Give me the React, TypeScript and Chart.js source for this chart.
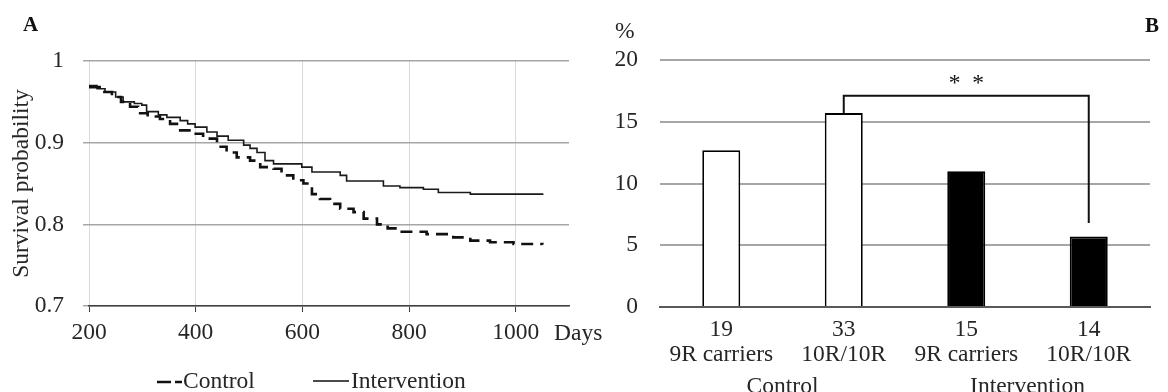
import React, { useEffect, useRef } from 'react';
import { Chart, registerables } from 'chart.js';

Chart.register(...registerables);

const FONT = '"Liberation Serif", "Times New Roman", serif';
const FS = 23.5;
const TEXT = '#262626';

// ---------- Panel A : survival curves ----------
const xTicksA = [200, 400, 600, 800, 1000];
const yTicksA = [0.7, 0.8, 0.9, 1];
const legendLabelsA = ['Control', 'Intervention'];

const controlDays = [200, 220, 243, 260, 277, 292, 310, 333, 352, 371, 396, 414, 440, 458, 477, 502, 521, 546, 561, 583, 602, 618, 633, 652, 671, 696, 715, 740, 760, 783, 833, 883, 915, 952, 996, 1050];
const controlSurv = [0.968, 0.962, 0.956, 0.95, 0.944, 0.936, 0.932, 0.929, 0.923, 0.915, 0.911, 0.905, 0.895, 0.888, 0.882, 0.878, 0.87, 0.868, 0.86, 0.854, 0.85, 0.837, 0.831, 0.825, 0.819, 0.815, 0.807, 0.8, 0.795, 0.791, 0.788, 0.784, 0.78, 0.778, 0.776, 0.775];

const interventionDays = [200, 215, 230, 250, 264, 285, 299, 308, 330, 346, 371, 385, 399, 421, 440, 461, 490, 502, 515, 530, 546, 599, 618, 671, 683, 752, 783, 827, 855, 915, 1052];
const interventionSurv = [0.97, 0.966, 0.962, 0.956, 0.95, 0.948, 0.946, 0.938, 0.934, 0.931, 0.927, 0.923, 0.919, 0.913, 0.908, 0.903, 0.897, 0.893, 0.888, 0.878, 0.874, 0.87, 0.864, 0.86, 0.853, 0.847, 0.845, 0.843, 0.839, 0.837, 0.837];

// ---------- Panel B : bars ----------
const barCounts = ['19', '33', '15', '14'];
const barGenotypes = ['9R carriers', '10R/10R', '9R carriers', '10R/10R'];
const barGroups = ['Control', 'Control', 'Intervention', 'Intervention'];
const barValues = [12.7, 15.7, 11.0, 5.7];
const yTicksB = [0, 5, 10, 15, 20];
const groupLabels = ['Control', 'Intervention'];
const bracketFrom = 1;
const bracketTo = 3;
const bracketTop = 17.1;
const bracketRightEnd = 6.8;
const significance = '*  *';
const starLevel = 18.5;

const W_A = 612;
const W_B = 1168 - W_A;
const H = 392;

export default function App() {
  const refA = useRef<HTMLCanvasElement>(null);
  const refB = useRef<HTMLCanvasElement>(null);

  useEffect(() => {
    const annotA = {
      id: 'annotA',
      afterDraw(chart: any) {
        const ctx = chart.ctx;
        ctx.save();
        ctx.fillStyle = '#111';
        ctx.textAlign = 'left';
        ctx.textBaseline = 'alphabetic';
        ctx.font = `bold 21px ${FONT}`;
        ctx.fillText('A', 23, 31);
        ctx.fillStyle = TEXT;
        ctx.font = `${FS}px ${FONT}`;
        ctx.fillText('Days', 554, 340);
        // legend
        ctx.strokeStyle = '#111';
        ctx.lineWidth = 2.6;
        ctx.setLineDash([14, 4]);
        ctx.beginPath();
        ctx.moveTo(157, 382);
        ctx.lineTo(182, 382);
        ctx.stroke();
        ctx.setLineDash([]);
        ctx.fillText(legendLabelsA[0], 183, 388);
        ctx.lineWidth = 1.6;
        ctx.beginPath();
        ctx.moveTo(313, 381);
        ctx.lineTo(349, 381);
        ctx.stroke();
        ctx.fillText(legendLabelsA[1], 351, 388);
        ctx.restore();
      },
    };

    const chartA = new Chart(refA.current as HTMLCanvasElement, {
      type: 'line',
      data: {
        datasets: [
          {
            label: legendLabelsA[0],
            data: controlDays.map((d, i) => ({ x: d, y: controlSurv[i] })),
            borderColor: '#111',
            borderWidth: 2.6,
            borderDash: [12, 7],
            stepped: true,
            pointRadius: 0,
            fill: false,
          },
          {
            label: legendLabelsA[1],
            data: interventionDays.map((d, i) => ({ x: d, y: interventionSurv[i] })),
            borderColor: '#1a1a1a',
            borderWidth: 1.6,
            stepped: true,
            pointRadius: 0,
            fill: false,
          },
        ],
      },
      options: {
        animation: false,
        responsive: false,
        devicePixelRatio: 1,
        layout: { padding: { left: 0, top: 61, right: W_A - 569, bottom: 0 } },
        plugins: { legend: { display: false }, tooltip: { enabled: false } },
        scales: {
          x: {
            type: 'linear',
            min: 200,
            max: 1100,
            afterBuildTicks: (s: any) => {
              s.ticks = xTicksA.map((v) => ({ value: v }));
            },
            afterFit: (s: any) => {
              s.height = H - 306;
            },
            grid: { color: '#dadada', lineWidth: 1, tickColor: '#404040', tickLength: 6, drawTicks: true },
            border: { color: '#404040', width: 1.5 },
            ticks: {
              font: { family: FONT, size: FS },
              color: TEXT,
              padding: 7,
              maxRotation: 0,
              autoSkip: false,
              callback: (v: any) => String(v),
            },
          },
          y: {
            min: 0.7,
            max: 1,
            afterBuildTicks: (s: any) => {
              s.ticks = yTicksA.map((v) => ({ value: v }));
            },
            afterFit: (s: any) => {
              s.width = 89;
            },
            grid: { color: '#a6a6a6', lineWidth: 1.5, tickLength: 6, tickColor: '#a6a6a6' },
            border: { display: false },
            ticks: {
              font: { family: FONT, size: FS },
              color: TEXT,
              padding: 19,
              callback: (v: any) => String(v),
            },
            title: {
              display: true,
              text: 'Survival probability',
              font: { family: FONT, size: FS },
              color: TEXT,
              padding: { top: 8, bottom: 0 },
            },
          },
        },
      },
      plugins: [annotA],
    } as any);

    const annotB = {
      id: 'annotB',
      afterDraw(chart: any) {
        const ctx = chart.ctx;
        const xs = chart.scales.x;
        const ys = chart.scales.y;
        ctx.save();
        ctx.fillStyle = TEXT;
        ctx.textBaseline = 'alphabetic';
        ctx.textAlign = 'left';
        ctx.font = `${FS}px ${FONT}`;
        ctx.fillText('%', 615 - W_A, 38);
        ctx.fillStyle = '#111';
        ctx.font = `bold 21px ${FONT}`;
        ctx.fillText('B', 1145 - W_A, 32);
        // bracket
        const x1 = xs.getPixelForValue(bracketFrom);
        const x2 = xs.getPixelForValue(bracketTo);
        const yStart = ys.getPixelForValue(barValues[bracketFrom]);
        const yTop = ys.getPixelForValue(bracketTop);
        const yEnd = ys.getPixelForValue(bracketRightEnd);
        ctx.strokeStyle = '#111';
        ctx.lineWidth = 2;
        ctx.beginPath();
        ctx.moveTo(x1, yStart);
        ctx.lineTo(x1, yTop);
        ctx.lineTo(x2, yTop);
        ctx.lineTo(x2, yEnd);
        ctx.stroke();
        ctx.textAlign = 'center';
        ctx.font = `${FS}px ${FONT}`;
        ctx.fillText(significance, (x1 + x2) / 2, ys.getPixelForValue(starLevel) + 11);
        // group labels
        ctx.fillStyle = TEXT;
        groupLabels.forEach((g) => {
          const idx = barGroups.map((b, i) => (b === g ? i : -1)).filter((i) => i >= 0);
          const cx = idx.reduce((a, i) => a + xs.getPixelForValue(i), 0) / idx.length;
          ctx.fillText(g, cx, 393);
        });
        ctx.restore();
      },
    };

    const chartB = new Chart(refB.current as HTMLCanvasElement, {
      type: 'bar',
      data: {
        labels: barCounts.map((c, i) => [c, barGenotypes[i]]),
        datasets: [
          {
            data: barValues,
            backgroundColor: barGroups.map((g) => (g === 'Control' ? '#ffffff' : '#000000')),
            borderColor: '#000',
            borderWidth: 1.8,
            barPercentage: 0.31,
            categoryPercentage: 1,
          },
        ],
      },
      options: {
        animation: false,
        responsive: false,
        devicePixelRatio: 1,
        layout: { padding: { left: 0, top: 60, right: W_B - 538, bottom: 0 } },
        plugins: { legend: { display: false }, tooltip: { enabled: false } },
        scales: {
          x: {
            grid: { display: false },
            border: { color: '#595959', width: 2 },
            ticks: {
              font: { family: FONT, size: FS, lineHeight: 1.07 },
              color: TEXT,
              padding: 2,
              maxRotation: 0,
              autoSkip: false,
            },
            afterFit: (s: any) => {
              s.height = H - 307;
            },
          },
          y: {
            min: 0,
            max: 20,
            afterBuildTicks: (s: any) => {
              s.ticks = yTicksB.map((v) => ({ value: v }));
            },
            afterFit: (s: any) => {
              s.width = 48;
            },
            grid: { color: '#a6a6a6', lineWidth: 2, drawTicks: false },
            border: { display: false },
            ticks: {
              font: { family: FONT, size: FS },
              color: TEXT,
              padding: 22,
              callback: (v: any) => String(v),
            },
          },
        },
      },
      plugins: [annotB],
    } as any);

    return () => {
      chartA.destroy();
      chartB.destroy();
    };
  }, []);

  return (
    <div style={{ position: 'fixed', left: 0, top: 0, width: 1168, height: H, background: '#fff', overflow: 'hidden' }}>
      <canvas ref={refA} width={W_A} height={H} style={{ position: 'absolute', left: 0, top: 0, width: W_A, height: H }} />
      <canvas ref={refB} width={W_B} height={H} style={{ position: 'absolute', left: W_A, top: 0, width: W_B, height: H }} />
    </div>
  );
}
